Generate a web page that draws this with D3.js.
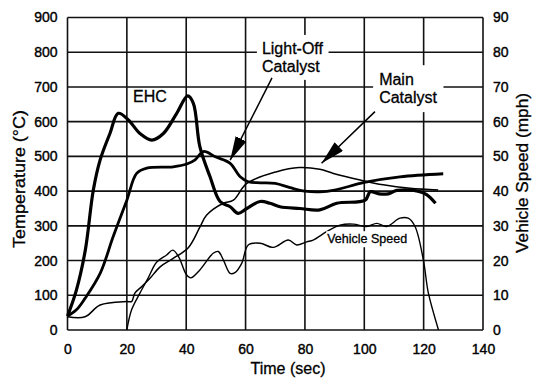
<!DOCTYPE html>
<html>
<head>
<meta charset="utf-8">
<script src="https://cdn.jsdelivr.net/npm/d3@7"></script>
<style>
body { margin: 0; background: #fff; }
svg { display: block; font-family: "Liberation Sans", Arial, sans-serif; }
</style>
</head>
<body>
<div id="chart"></div>
<script>
// values
var timeTicks = [0, 20, 40, 60, 80, 100, 120, 140];
var tempTicks = [0, 100, 200, 300, 400, 500, 600, 700, 800, 900];
var speedTicks = [0, 10, 20, 30, 40, 50, 60, 70, 80, 90];

var ehcTime = [0, 3, 6, 8.7, 11, 14.3, 17.1, 20.5, 24.4, 28.4, 32.3, 36.8, 40.5, 42.4, 44.6, 48, 51.4, 54.8, 57.5, 60.4, 64.9, 68.2, 71.6, 78.3, 85, 90.7, 100.3, 102, 105, 108, 111, 118, 121, 124];
var ehcTemp = [40, 115, 230, 403, 490, 566, 624, 605, 566, 547, 566, 624, 674, 653, 528, 442, 370, 355, 336, 350, 370, 365, 355, 350, 346, 365, 374, 398, 392, 392, 402, 400, 390, 365];

var lightOffTime = [0, 3, 5.9, 11, 15.4, 20, 23.3, 26.7, 35.6, 40.2, 43, 45.8, 50, 54.8, 58.1, 60.9, 65, 70, 75, 80, 85, 90, 100, 112, 126.6];
var lightOffTemp = [40, 58, 91, 163, 269, 374, 451, 466, 470, 478, 490, 514, 498, 480, 442, 427, 424, 422, 410, 400, 398, 403, 425, 441, 450];

var mainTime = [0, 5.9, 11, 19.9, 21.6, 22.7, 25, 27.8, 31.2, 35.6, 40.7, 44.6, 46.9, 52.5, 55.9, 60.4, 70.5, 78, 85, 89.6, 98.6, 106.4, 115.4, 124.9];
var mainTemp = [38, 38, 72, 82, 82, 106, 125, 149, 182, 206, 237, 296, 331, 365, 374, 422, 456, 468, 463, 451, 432, 418, 408, 403];

var speedTime = [20, 21.6, 24.4, 27.2, 30, 33.4, 35.5, 37.5, 40, 41.5, 44.6, 49.1, 50.8, 52.5, 54.8, 56.4, 58.7, 60.9, 64.9, 69.3, 74.4, 77.2, 80.6, 82.8, 87.3, 91.8, 96.3, 100.8, 104.2, 107.5, 112, 114.8, 117.1, 119.9, 121.6, 125];
var speedMph = [0, 5.8, 10.6, 15, 19.5, 21.6, 23, 21, 16, 15, 17.3, 22.1, 22.6, 20.2, 16.3, 16.5, 19.2, 24.5, 25, 23.8, 25.9, 24.5, 25.4, 25.9, 28.3, 30.2, 30.5, 29.8, 30.7, 29.8, 32.2, 32.2, 29.8, 20.2, 10.6, 0];

var W = 540, H = 387;
var x = d3.scaleLinear().domain([0, 140]).range([67.5, 483]);
var yT = d3.scaleLinear().domain([0, 900]).range([330, 17.5]);
var yS = d3.scaleLinear().domain([0, 90]).range([330, 17.5]);

var svg = d3.select('#chart').append('svg')
	.attr('width', W)
	.attr('height', H);

svg.append('rect').attr('width', W).attr('height', H).attr('fill', '#fff');

// grid
var grid = svg.append('g').attr('stroke', '#111').attr('stroke-width', 1.6);
grid.selectAll('.v').data(timeTicks).enter().append('line')
	.attr('x1', d => x(d)).attr('x2', d => x(d))
	.attr('y1', yT(0)).attr('y2', yT(900));
grid.selectAll('.h').data(tempTicks).enter().append('line')
	.attr('x1', x(0)).attr('x2', x(140))
	.attr('y1', d => yT(d)).attr('y2', d => yT(d));

// axes (labels only)
function styleAxis(g) {
	g.select('.domain').remove();
	g.selectAll('text').attr('font-size', 14).attr('fill', '#000')
		.attr('font-family', '"Liberation Sans", Arial, sans-serif')
		.attr('stroke', '#000').attr('stroke-width', 0.4);
}
svg.append('g').attr('transform', 'translate(' + x(0) + ',0)')
	.call(d3.axisLeft(yT).tickValues(tempTicks).tickSize(0).tickPadding(10))
	.call(styleAxis);
svg.append('g').attr('transform', 'translate(' + x(140) + ',0)')
	.call(d3.axisRight(yS).tickValues(speedTicks).tickSize(0).tickPadding(10))
	.call(styleAxis);
svg.append('g').attr('transform', 'translate(0,' + yT(0) + ')')
	.call(d3.axisBottom(x).tickValues(timeTicks).tickSize(0).tickPadding(14))
	.call(styleAxis);

// axis titles
var titles = svg.append('g').attr('stroke', '#000').attr('stroke-width', 0.3);
titles.append('text')
	.attr('transform', 'translate(25,179) rotate(-90)')
	.attr('text-anchor', 'middle').attr('font-size', 16)
	.attr('textLength', 138).attr('lengthAdjust', 'spacingAndGlyphs')
	.text('Temperature (°C)');
titles.append('text')
	.attr('transform', 'translate(528,173) rotate(-90)')
	.attr('text-anchor', 'middle').attr('font-size', 16)
	.attr('textLength', 160).attr('lengthAdjust', 'spacingAndGlyphs')
	.text('Vehicle Speed (mph)');
titles.append('text')
	.attr('x', 288).attr('y', 374)
	.attr('text-anchor', 'middle').attr('font-size', 16)
	.text('Time (sec)');

// curves
var lineT = d3.line().x(d => x(d[0])).y(d => yT(d[1])).curve(d3.curveCatmullRom.alpha(0.5));
var lineS = d3.line().x(d => x(d[0])).y(d => yS(d[1])).curve(d3.curveCatmullRom.alpha(0.5));

svg.append('path').attr('d', lineT(d3.zip(mainTime, mainTemp)))
	.attr('fill', 'none').attr('stroke', '#000').attr('stroke-width', 1.5);
svg.append('path').attr('d', lineS(d3.zip(speedTime, speedMph)))
	.attr('fill', 'none').attr('stroke', '#000').attr('stroke-width', 1.4);
svg.append('path').attr('d', lineT(d3.zip(lightOffTime, lightOffTemp)))
	.attr('fill', 'none').attr('stroke', '#000').attr('stroke-width', 2.8);
svg.append('path').attr('d', lineT(d3.zip(ehcTime, ehcTemp)))
	.attr('fill', 'none').attr('stroke', '#000').attr('stroke-width', 3.2);

// labels with white boxes over the grid
function label(lines, t, temp, size, pad) {
	var g = svg.append('g');
	var txt = g.append('text').attr('font-size', size).attr('fill', '#000')
		.attr('stroke', '#000').attr('stroke-width', 0.3);
	lines.forEach(function(s, i) {
		txt.append('tspan').attr('x', x(t)).attr('y', yT(temp) + i * size * 1.12).text(s);
	});
	if (pad != null) {
		var b = txt.node().getBBox();
		g.insert('rect', 'text')
			.attr('x', b.x - pad).attr('y', b.y - pad)
			.attr('width', b.width + pad * 2).attr('height', b.height + pad * 2)
			.attr('fill', '#fff');
	}
	return g;
}
label(['EHC'], 22.1, 657, 16, null);
label(['Light-Off', 'Catalyst'], 65.5, 795, 16, 5);
label(['Main', 'Catalyst'], 105, 705, 16, 6);
label(['Vehicle Speed'], 87.5, 250, 12.5, 1);

// arrows
var defs = svg.append('defs');
defs.append('marker').attr('id', 'head')
	.attr('markerUnits', 'userSpaceOnUse')
	.attr('viewBox', '0 0 24 12').attr('refX', 24).attr('refY', 6)
	.attr('markerWidth', 24).attr('markerHeight', 12)
	.attr('orient', 'auto')
	.append('path').attr('d', 'M0,0 L24,6 L0,12 Z').attr('fill', '#000');

svg.append('line')
	.attr('x1', x(68.9)).attr('y1', yT(726)).attr('x2', x(54.8)).attr('y2', yT(489))
	.attr('stroke', '#000').attr('stroke-width', 1.5).attr('marker-end', 'url(#head)');
svg.append('line')
	.attr('x1', x(103.6)).attr('y1', yT(629)).attr('x2', x(85.6)).attr('y2', yT(480))
	.attr('stroke', '#000').attr('stroke-width', 1.5).attr('marker-end', 'url(#head)');
</script>
</body>
</html>
